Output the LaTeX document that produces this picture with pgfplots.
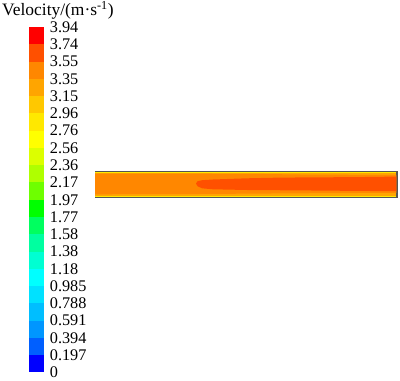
\documentclass[border=0pt]{standalone}
\usepackage{fontspec}
\setmainfont{Liberation Serif}
\usepackage{pgfplots}
\pgfplotsset{compat=1.18}
\definecolor{c0}{RGB}{0,0,255}
\definecolor{c1}{RGB}{0,95,255}
\definecolor{c2}{RGB}{0,150,255}
\definecolor{c3}{RGB}{0,190,255}
\definecolor{c4}{RGB}{0,225,255}
\definecolor{c5}{RGB}{0,255,255}
\definecolor{c6}{RGB}{0,255,210}
\definecolor{c7}{RGB}{0,255,160}
\definecolor{c8}{RGB}{0,255,95}
\definecolor{c9}{RGB}{0,255,0}
\definecolor{c10}{RGB}{110,255,0}
\definecolor{c11}{RGB}{175,255,0}
\definecolor{c12}{RGB}{220,255,0}
\definecolor{c13}{RGB}{255,255,0}
\definecolor{c14}{RGB}{255,232,0}
\definecolor{c15}{RGB}{255,200,0}
\definecolor{c16}{RGB}{255,165,0}
\definecolor{c17}{RGB}{255,135,0}
\definecolor{c18}{RGB}{255,80,0}
\definecolor{c19}{RGB}{255,0,0}
\definecolor{wallgray}{RGB}{85,85,85}
\begin{document}
\begin{tikzpicture}
\path[use as bounding box] (0,0) rectangle (400bp,381bp);
% colour bar
\begin{axis}[at={(29bp,8.5bp)}, anchor=south west, width=14.7bp, height=345.5bp,
  scale only axis, xmin=0, xmax=1, ymin=0, ymax=20,
  axis line style={draw=none}, xtick=\empty,
  ytick={0,1,...,20},
  yticklabels={0,0.197,0.394,0.591,0.788,0.985,1.18,1.38,1.58,1.77,1.97,2.17,2.36,2.56,2.76,2.96,3.15,3.35,3.55,3.74,3.94},
  yticklabel pos=right, major tick length=0pt,
  yticklabel style={font=\fontsize{16.3}{16.3}\selectfont, anchor=west, inner sep=0pt, xshift=6bp},
  clip=false]
\addplot[fill=c0,draw=none] coordinates {(0,0)(1,0)(1,1)(0,1)} --cycle;
\addplot[fill=c1,draw=none] coordinates {(0,1)(1,1)(1,2)(0,2)} --cycle;
\addplot[fill=c2,draw=none] coordinates {(0,2)(1,2)(1,3)(0,3)} --cycle;
\addplot[fill=c3,draw=none] coordinates {(0,3)(1,3)(1,4)(0,4)} --cycle;
\addplot[fill=c4,draw=none] coordinates {(0,4)(1,4)(1,5)(0,5)} --cycle;
\addplot[fill=c5,draw=none] coordinates {(0,5)(1,5)(1,6)(0,6)} --cycle;
\addplot[fill=c6,draw=none] coordinates {(0,6)(1,6)(1,7)(0,7)} --cycle;
\addplot[fill=c7,draw=none] coordinates {(0,7)(1,7)(1,8)(0,8)} --cycle;
\addplot[fill=c8,draw=none] coordinates {(0,8)(1,8)(1,9)(0,9)} --cycle;
\addplot[fill=c9,draw=none] coordinates {(0,9)(1,9)(1,10)(0,10)} --cycle;
\addplot[fill=c10,draw=none] coordinates {(0,10)(1,10)(1,11)(0,11)} --cycle;
\addplot[fill=c11,draw=none] coordinates {(0,11)(1,11)(1,12)(0,12)} --cycle;
\addplot[fill=c12,draw=none] coordinates {(0,12)(1,12)(1,13)(0,13)} --cycle;
\addplot[fill=c13,draw=none] coordinates {(0,13)(1,13)(1,14)(0,14)} --cycle;
\addplot[fill=c14,draw=none] coordinates {(0,14)(1,14)(1,15)(0,15)} --cycle;
\addplot[fill=c15,draw=none] coordinates {(0,15)(1,15)(1,16)(0,16)} --cycle;
\addplot[fill=c16,draw=none] coordinates {(0,16)(1,16)(1,17)(0,17)} --cycle;
\addplot[fill=c17,draw=none] coordinates {(0,17)(1,17)(1,18)(0,18)} --cycle;
\addplot[fill=c18,draw=none] coordinates {(0,18)(1,18)(1,19)(0,19)} --cycle;
\addplot[fill=c19,draw=none] coordinates {(0,19)(1,19)(1,20)(0,20)} --cycle;
\end{axis}
% pipe contour
\begin{axis}[at={(0,0)}, anchor=south west, width=400bp, height=381bp,
  scale only axis, xmin=0, xmax=400, ymin=0, ymax=381, y dir=reverse,
  hide axis, clip=false]
\addplot[fill=wallgray,draw=none] coordinates {(94.5,171)(397.5,171)(397.5,198.5)(94.5,198.5)} --cycle;
\addplot[fill=c14,draw=none] coordinates {(95,172.3)(396.3,172.3)(396.3,197.2)(95,197.2)} --cycle;
\addplot[fill=c16,draw=none] coordinates {(95,173.2)(396.3,173.2)(396.3,196)(95,196)} --cycle;
\addplot[fill=c17,draw=none] coordinates {(95,173.6)(250,173.8)(300,174.5)(396.3,175)(396.3,192.8)(300,193.3)(200,194)(95,194.3)} --cycle;
\addplot[fill=c18,draw=none] coordinates {(196,183.5)(197.5,181.3)(202,180.2)(213,179.5)(247,178.3)(280,177.6)(357,177.1)(396.3,176.6)(396.3,191.2)(357,190.9)(300,190.4)(247,190)(213,189.3)(202,188.3)(197.5,186.2)} --cycle;
\node[anchor=base west, inner sep=0pt, font=\fontsize{17.5}{17.5}\selectfont] at (axis cs:2,16) {Velocity/(m·s\textsuperscript{-1})};
\end{axis}
\end{tikzpicture}
\end{document}
